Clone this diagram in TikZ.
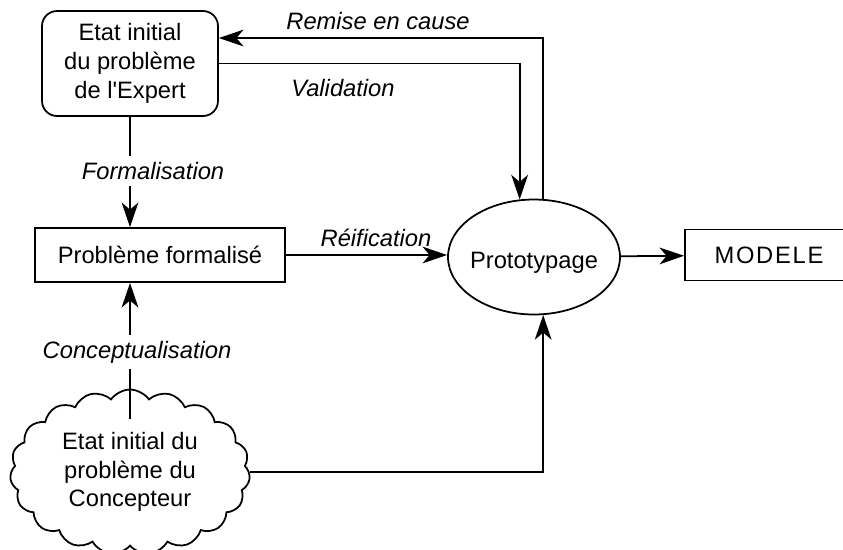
\documentclass[tikz,border=0pt]{standalone}
\usepackage{fontspec}
\setmainfont{Liberation Sans}
\usetikzlibrary{arrows.meta,shapes.geometric,shapes.symbols}

\begin{document}
\begin{tikzpicture}[x=0.02cm,y=-0.02cm,
  every node/.style={font=\fontsize{13.5}{16.4}\selectfont},
  boite/.style={draw,line width=1pt,inner sep=0pt,align=center},
  fleche/.style={line width=1pt,-{Stealth[length=14pt,width=9.5pt,inset=4pt]}},
  etiq/.style={font=\fontsize{13.5}{16.4}\selectfont\itshape,inner sep=0pt},
  coupe/.style={etiq,fill=white,inner ysep=3.5pt}]
  %%%%% START %%%%%
  \useasboundingbox (0,0) rectangle (843,549);

  \node[boite,rounded corners=0.3cm,minimum width=3.52cm,minimum height=2.1cm] (expert) at (130,63.5) {Etat initial\\du problème\\de l\textquotesingle Expert};
  \node[boite,minimum width=5cm,minimum height=1.08cm] (forma) at (160,255) {Problème formalisé};
  \node[boite,ellipse,minimum width=3.44cm,minimum height=2.3cm] (proto) at (534,257) {\makebox[0pt]{\smash{\raisebox{-6.5pt}{Prototypage}}}};
  \node[boite,minimum width=3.36cm,minimum height=1.02cm] (modele) at (769,255) {M\kern1pt O\kern1pt D\kern1pt E\kern1pt L\kern1pt E};
  \node[boite,cloud,cloud puffs=19,cloud puff arc=110,cloud ignores aspect,minimum width=4.8cm,minimum height=3.3cm] (concep) at (130,472) {Etat initial du\\problème du\\Concepteur};

  % liens
  \draw[fleche] (expert.south) -- (expert.south |- forma.north);
  \draw[fleche] ([yshift=-0.6cm]concep.north) -- (concep.north |- forma.south);
  \draw[fleche] (forma) -- (forma -| proto.west);
  \draw[fleche] (proto) -- (modele);
  \draw[fleche] (expert.east) -| (proto.104);
  \draw[fleche] (proto.81) |- (expert.16);
  \draw[fleche] (concep) -| (proto.-81);

  % etiquettes
  \node[etiq] (remise) at (378,21) {Remise en cause};
  \node[etiq] (valid) at (343,88) {Validation};
  \node[coupe] (formal) at (153,171) {Formalisation};
  \node[etiq] (reif) at (376,238) {Réification};
  \node[coupe] (concept) at (137,352) {Conceptualisation};
  %%%%% END %%%%%
\end{tikzpicture}
\end{document}
